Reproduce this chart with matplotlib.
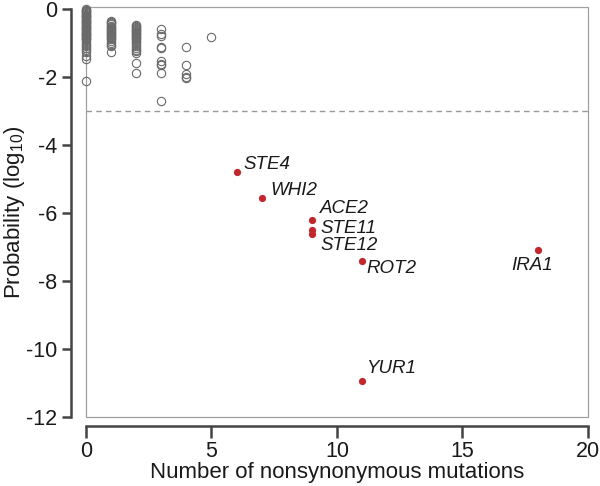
import matplotlib
matplotlib.use("Agg")
import matplotlib.pyplot as plt
from matplotlib.patches import Rectangle

plt.rcParams["font.family"] = ["Liberation Sans", "DejaVu Sans"]
plt.rcParams["mathtext.default"] = "regular"
plt.rcParams["axes.unicode_minus"] = False

# background genes (grey circles): x = nonsynonymous mutations, y = log10 probability
bg_y0 = [0.0, -0.025, -0.05, -0.075, -0.1, -0.125, -0.15, -0.175, -0.2,
         -0.225, -0.25, -0.275, -0.3, -0.325, -0.35, -0.375, -0.4, -0.425,
         -0.45, -0.475, -0.5, -0.525, -0.55, -0.575, -0.6, -0.625, -0.65,
         -0.675, -0.7, -0.725, -0.75, -0.775, -0.8, -0.825, -0.85, -0.875,
         -0.9, -0.95, -1.0, -1.05, -1.1, -1.15, -1.2, -1.26, -1.4, -1.48,
         -2.12]
bg_x0 = [0] * len(bg_y0)
bg_y1 = [-0.37, -0.4, -0.43, -0.46, -0.49, -0.52, -0.55, -0.58, -0.61,
         -0.64, -0.67, -0.7, -0.73, -0.76, -0.79, -0.82, -0.86, -0.9,
         -0.95, -1.0, -1.05, -1.1, -1.27]
bg_x1 = [1] * len(bg_y1)
bg_y2 = [-0.47, -0.5, -0.53, -0.56, -0.59, -0.62, -0.65, -0.68, -0.71,
         -0.74, -0.77, -0.8, -0.83, -0.86, -0.9, -0.94, -0.98, -1.03,
         -1.08, -1.14, -1.2, -1.25, -1.3, -1.58, -1.89]
bg_x2 = [2] * len(bg_y2)
bg_y3 = [-0.59, -0.74, -0.79, -1.13, -1.16, -1.53, -1.62, -1.66, -1.9, -2.7]
bg_x3 = [3] * len(bg_y3)
bg_y4 = [-1.11, -1.65, -1.92, -1.99, -2.03]
bg_x4 = [4] * len(bg_y4)
bg_y5 = [-0.82]
bg_x5 = [5]

# significant genes (red dots)
genes = ["STE4", "WHI2", "ACE2", "STE11", "STE12", "ROT2", "YUR1", "IRA1"]
gene_x = [6, 7, 9, 9, 9, 11, 11, 18]
gene_y = [-4.81, -5.55, -6.21, -6.5, -6.63, -7.4, -10.93, -7.1]
# label offsets in points (dx, dy) and alignment
label_off = [(5, 6), (6, 5), (6, 8), (6, 1), (6, -8), (3, -6), (3, 9), (-4, -11)]
label_ha = ["left", "left", "left", "left", "left", "left", "left", "center"]

threshold = -3

fig = plt.figure(figsize=(6, 4.86), dpi=100)
ax = fig.add_axes([0.1433, 0.142, 0.8367, 0.8426])

for xs, ys in [(bg_x0, bg_y0), (bg_x1, bg_y1), (bg_x2, bg_y2),
               (bg_x3, bg_y3), (bg_x4, bg_y4), (bg_x5, bg_y5)]:
    ax.plot(xs, ys, "o", ms=6, mfc="none", mec="#6a6a6a", mew=0.8,
            clip_on=False, zorder=3)

ax.axhline(threshold, color="#999999", lw=1.0, ls=(0, (4, 3)), zorder=1)

ax.plot(gene_x, gene_y, "o", ms=5.2, color="#c1272d", mec="none", zorder=4)
for g, x, y, (dx, dy), ha in zip(genes, gene_x, gene_y, label_off, label_ha):
    ax.annotate(g, (x, y), xytext=(dx, dy), textcoords="offset points",
                ha=ha, va="center", fontsize=13.5, style="italic",
                color="#1a1a1a")

ax.set_xlim(0, 20)
ax.set_ylim(-12, 0.04)
ax.set_xticks([0, 5, 10, 15, 20])
ax.set_yticks([0, -2, -4, -6, -8, -10, -12])

# thin grey frame around the data area
ax.add_patch(Rectangle((0, 0), 1, 1, transform=ax.transAxes, fill=False,
                       edgecolor="#a0a0a0", lw=0.9, zorder=0, clip_on=False))

for s in ["top", "right"]:
    ax.spines[s].set_visible(False)
ax.spines["left"].set_position(("outward", 10.5))
ax.spines["bottom"].set_position(("outward", 6.5))
ax.spines["left"].set_bounds(-12, 0)
ax.spines["bottom"].set_bounds(0, 20)
for s in ["left", "bottom"]:
    ax.spines[s].set_linewidth(1.8)
    ax.spines[s].set_color("#444444")
ax.tick_params(width=1.8, color="#444444", labelsize=15.5,
               labelcolor="#1a1a1a")
ax.tick_params(axis="x", length=8.5, pad=2.5)
ax.tick_params(axis="y", length=6.5, pad=4)

ax.set_xlabel("Number of nonsynonymous mutations", fontsize=16,
              color="#1a1a1a", labelpad=0)
ax.set_ylabel("Probability (log$_{10}$)", fontsize=16, color="#1a1a1a")
ax.yaxis.set_label_coords(-0.117, 0.5)

fig.savefig("out.png", dpi=100)
